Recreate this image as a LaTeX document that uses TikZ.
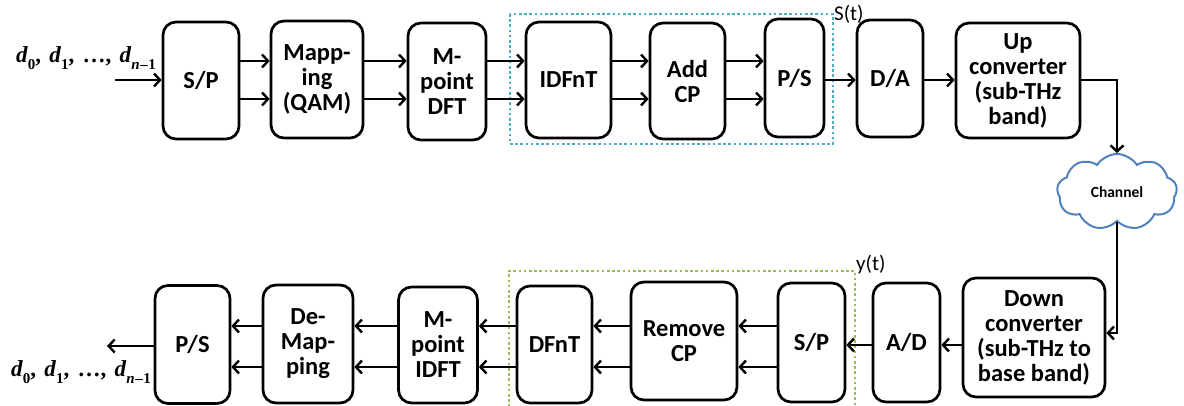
\documentclass[tikz,border=0pt]{standalone}
\usepackage{fontspec}
\setmainfont{Carlito}
\newfontfamily\seqfont{Liberation Serif}
\usetikzlibrary{arrows.meta,shapes.symbols}
\definecolor{txblue}{HTML}{4BACC6}
\definecolor{rxgreen}{HTML}{9BBB59}
\definecolor{cloudblue}{HTML}{4F81BD}
% bold italic symbol with a bold upright index
\newcommand{\dsym}[1]{\textit{d}\raisebox{-0.28em}{\fontsize{15}{15}\selectfont#1}}
\newcommand{\dseq}{\dsym{0},\hspace{2.5pt}\ \dsym{1},\hspace{2.5pt}\ \ldots,\hspace{2.5pt}\ \dsym{\textit{n}\kern0.5pt\textendash\kern0.5pt1}}
\tikzset{
  blk/.style={draw=black, line width=2.7pt, rounded corners=13pt, fill=white,
    align=center, font=\fontsize{24.5}{25}\selectfont\bfseries, inner sep=2pt},
  arr/.style={line width=2.4pt, -{Straight Barb[length=6pt,width=13pt,line width=2.4pt]}},
  grp/.style={line width=2.6pt, dash pattern=on 2.6pt off 2.6pt},
  sig/.style={font=\fontsize{21}{23}\selectfont, inner sep=0pt},
  seq/.style={font=\seqfont\fontsize{23}{25}\selectfont\bfseries, inner sep=0pt}
}
\begin{document}
\begin{tikzpicture}[x=1pt,y=-1pt]
\useasboundingbox (0,0) rectangle (1184,406);

% transmitter chain
\node[blk, minimum width=76pt, minimum height=117pt] (sp1)   at (201,80.5)  {S/P};
\node[blk, minimum width=92pt, minimum height=117pt] (map)   at (317,79.5)  {Mapp-\\ing\\(QAM)};
\node[blk, minimum width=78pt, minimum height=117pt] (dft)   at (447,81.5)  {M-\\point\\DFT};
\node[blk, minimum width=85pt, minimum height=116pt] (idfnt) at (568.5,80)  {IDFnT};
\node[blk, minimum width=75pt, minimum height=116pt] (addcp) at (687.5,81)  {Add\\CP};
\node[blk, minimum width=59pt, minimum height=118pt] (ps1)   at (794.5,78)  {P/S};
\node[blk, minimum width=66pt, minimum height=117pt] (da)    at (890,78.5)  {D/A};
\node[blk, minimum width=124pt, minimum height=115pt] (up)   at (1018,80.5) {Up\\converter\\(sub-THz\\band)};

% transmitter group S(t)
\draw[grp, draw=txblue] (510,14) rectangle (833,144);
\node[sig, anchor=west] (st) at (834,14) {S(t)};

% channel
\node[cloud, cloud puffs=9, cloud puff arc=115, aspect=1.55, draw=cloudblue,
      line width=2pt, fill=white, minimum width=120pt, minimum height=76pt,
      font=\fontsize{15.5}{17}\selectfont\bfseries] (ch) at (1117,192) {Channel};

% receiver chain
\node[blk, minimum width=75pt, minimum height=118pt] (ps2)   at (192.5,344.5) {P/S};
\node[blk, minimum width=90pt, minimum height=118pt] (demap) at (308,344)    {De-\\Map-\\ping};
\node[blk, minimum width=79pt, minimum height=116pt] (idft)  at (438,345)    {M-\\point\\IDFT};
\node[blk, minimum width=75pt, minimum height=117pt] (dfnt)  at (554.5,344.5) {DFnT};
\node[blk, minimum width=106pt, minimum height=118pt] (rcp)  at (684,341)    {Remove\\CP};
\node[blk, minimum width=67pt, minimum height=119pt] (sp2)   at (811.5,342.5) {S/P};
\node[blk, minimum width=67pt, minimum height=119pt] (ad)    at (906.5,342.5) {A/D};
\node[blk, minimum width=142pt, minimum height=119pt] (down) at (1034,337.5) {Down\\converter\\(sub-THz to\\base band)};

% receiver group y(t)
\draw[grp, draw=rxgreen] (509,407) -- (509,271) -- (855,271) -- (855,407);
\node[sig, anchor=west] (yt) at (856,265) {y(t)};

% data symbols in and out
\node[seq] (din)  at (86,58)  {\dseq};
\node[seq] (dout) at (81,372) {\dseq};
\coordinate (src) at (115,80);
\coordinate (snk) at (107,346);

% transmitter connectors
\draw[arr] (src) -- (sp1.west |- src);
\foreach \a/\b in {sp1/map, map/dft, dft/idfnt, idfnt/addcp, addcp/ps1}{
  \draw[arr] (\a.east |- 0,61) -- (\b.west |- 0,61);
  \draw[arr] (\a.east |- 0,99) -- (\b.west |- 0,99);
}
\draw[arr] (ps1.east |- 0,80) -- (da.west |- 0,80);
\draw[arr] (da.east |- 0,80) -- (up.west |- 0,80);
\draw[arr] (up.east |- 0,80) -| (ch.north);
\draw[arr] (ch.south) |- (down.east |- 0,333);

% receiver connectors
\draw[arr] (down.west |- 0,345) -- (ad.east |- 0,345);
\draw[arr] (ad.west |- 0,345) -- (sp2.east |- 0,345);
\foreach \a/\b in {sp2/rcp, rcp/dfnt, dfnt/idft, idft/demap, demap/ps2}{
  \draw[arr] (\a.west |- 0,326) -- (\b.east |- 0,326);
  \draw[arr] (\a.west |- 0,367) -- (\b.east |- 0,367);
}
\draw[arr] (ps2.west |- snk) -- (snk);
\end{tikzpicture}
\end{document}
